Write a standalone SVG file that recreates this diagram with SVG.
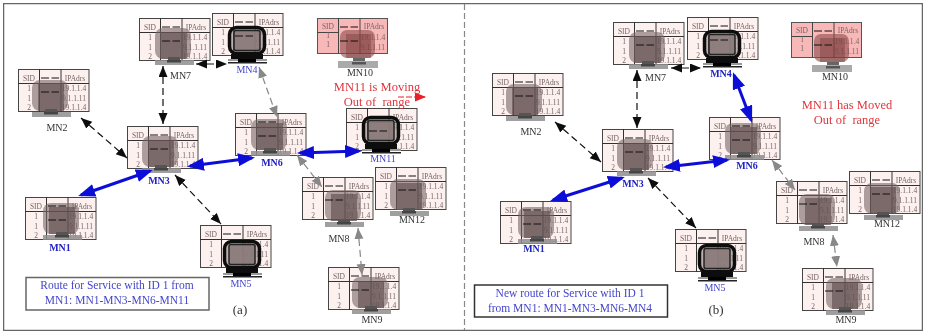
<svg xmlns="http://www.w3.org/2000/svg" width="925" height="332" viewBox="0 0 925 332">
<style>
text{font-family:"Liberation Serif","Times New Roman",serif}
.t{font-size:7.5px;fill:#756565;text-anchor:middle}
.l{font-size:10px;fill:#333;text-anchor:middle}
.ls{font-size:10px;fill:#333;text-anchor:start}
.b{font-size:10px;fill:#4444cc;text-anchor:middle}
.bb{font-size:10px;fill:#2222c0;font-weight:bold;text-anchor:middle}
.red{font-size:12.5px;fill:#e0353c;text-anchor:middle}
.rt{font-size:11.5px;fill:#4444cc;text-anchor:middle}
.cap{font-size:13px;fill:#333;text-anchor:middle}
.box{fill:#fff;stroke-width:1.5}
.k{stroke:#111;stroke-width:1.2;stroke-dasharray:7 4;fill:none;marker-start:url(#ak);marker-end:url(#ak)}
.g{stroke:#888;stroke-width:1.2;stroke-dasharray:7 4;fill:none;marker-start:url(#ag);marker-end:url(#ag)}
.u{stroke:#1010d8;stroke-width:3;fill:none;marker-start:url(#au);marker-end:url(#au)}
</style>
<defs>
<filter id="soft" x="0" y="0" width="100%" height="100%"><feGaussianBlur stdDeviation="0.35"/></filter>
<marker id="ak" markerUnits="userSpaceOnUse" markerWidth="12" markerHeight="10" refX="11" refY="4.500" orient="auto-start-reverse"><path d="M0,0L11,4.500L0,9z" fill="#111"/></marker>
<marker id="ag" markerUnits="userSpaceOnUse" markerWidth="12" markerHeight="10" refX="11" refY="4.500" orient="auto-start-reverse"><path d="M0,0L11,4.500L0,9z" fill="#888"/></marker>
<marker id="au" markerUnits="userSpaceOnUse" markerWidth="18" markerHeight="13" refX="14" refY="6.500" orient="auto-start-reverse"><path d="M0,0L17,6.500L0,13z" fill="#1010d8"/></marker>
<marker id="ar" markerUnits="userSpaceOnUse" markerWidth="12" markerHeight="10" refX="10" refY="4.500" orient="auto"><path d="M0,0L11,4.500L0,9z" fill="#e8202c"/></marker>
<g id="tb">
<rect x="0.500" y="0.500" width="70.500" height="42" fill="#fdf1f0" stroke="#444" stroke-width="1"/>
<path d="M0,14.500H71M21.500,0V43M43,0V43" stroke="#333" stroke-width="1" fill="none"/>
</g>
<g id="tbp">
<rect x="0.500" y="0.500" width="70" height="35" fill="#f9b8b8" stroke="#555" stroke-width="1"/>
<path d="M0,14.500H21M21.500,0V36M43,0V36" stroke="#444" stroke-width="1" fill="none"/>
</g>
<path id="ds" d="M23,9H41M23,23H41" stroke="#111" stroke-width="1" stroke-dasharray="8 2.500" fill="none"/>
<g id="pc">
<rect x="0" y="0" width="36" height="31" rx="8" fill="#7a6666" opacity=".6"/>
<rect x="6" y="4" width="26" height="27" fill="#5a4a4a" opacity=".6"/>
<rect x="13" y="29" width="12" height="3" fill="#555"/>
<rect x="0" y="32" width="39" height="5" fill="#8e8e8e" opacity=".85"/>
<rect x="12" y="32" width="14" height="2.500" fill="#444"/>
</g>
<g id="pd">
<rect x="1.500" y="1.500" width="35" height="26" rx="7" fill="#8a7a7a" fill-opacity=".55" stroke="#111" stroke-width="3.500"/>
<rect x="6" y="4.500" width="26" height="20" rx="2" fill="#8a7a7a" fill-opacity=".92" stroke="#222" stroke-width="1.500"/>
<rect x="3" y="28" width="32" height="5" fill="#111"/>
<rect x="0" y="33" width="39" height="2" fill="#999"/>
<rect x="10" y="33" width="18" height="3" fill="#000"/>
<rect x="0" y="36" width="39" height="1.500" fill="#222"/>
</g>
<g id="pp">
<rect x="0" y="0" width="35" height="28" rx="7" fill="#8c4a4a" opacity=".6"/>
<rect x="6" y="4" width="25" height="24" fill="#7a3c3c" opacity=".45"/>
<rect x="13" y="28" width="12" height="3" fill="#666"/>
<rect x="-2" y="31" width="40" height="7" fill="#aaa"/>
<rect x="12" y="32" width="14" height="2.500" fill="#555"/>
</g>
</defs>
<g filter="url(#soft)">
<rect id="frame" x="3.500" y="3.500" width="919" height="327" fill="#fff" stroke="#666" stroke-width="1.500"/>
<line id="divider" x1="464.500" y1="4" x2="464.500" y2="330" stroke="#888" stroke-width="1.200" stroke-dasharray="6 3"/>

<g id="a-MN7" transform="translate(139,18)"><use href="#tb"/><text class="t" x="11" y="12">SID</text><text class="t" x="57" y="12">IPAdrs</text><text class="t" x="11" y="22">1</text><text class="t" x="11" y="32">1</text><text class="t" x="11" y="41">2</text><text class="t" x="56" y="22">19.1.1.4</text><text class="t" x="56" y="32">9.1.1.11</text><text class="t" x="56" y="41">19.1.1.4</text><use href="#pc" x="16" y="10"/><use href="#ds"/><text class="ls" x="31" y="61">MN7</text></g>
<g id="a-MN4" transform="translate(212,13)"><use href="#tb"/><text class="t" x="11" y="12">SID</text><text class="t" x="57" y="12">IPAdrs</text><text class="t" x="11" y="22">1</text><text class="t" x="11" y="32">1</text><text class="t" x="11" y="41">2</text><text class="t" x="56" y="22">19.1.1.4</text><text class="t" x="56" y="32">9.1.1.11</text><text class="t" x="56" y="41">19.1.1.4</text><use href="#pd" x="16" y="13"/><use href="#ds"/><text class="b" x="35" y="60">MN4</text></g>
<g id="a-MN10" transform="translate(317,18)"><use href="#tbp"/><text class="t" x="11" y="11">SID</text><text class="t" x="57" y="11">IPAdrs</text><text class="t" x="11" y="20">1</text><text class="t" x="11" y="29">1</text><text class="t" x="56" y="22">19.1.1.4</text><text class="t" x="56" y="32">9.1.1.11</text><use href="#pp" x="23" y="12"/><use href="#ds"/><text class="l" x="43" y="58">MN10</text></g>
<g id="a-MN2" transform="translate(18,69)"><use href="#tb"/><text class="t" x="11" y="12">SID</text><text class="t" x="57" y="12">IPAdrs</text><text class="t" x="11" y="22">1</text><text class="t" x="11" y="32">1</text><text class="t" x="11" y="41">2</text><text class="t" x="56" y="22">19.1.1.4</text><text class="t" x="56" y="32">9.1.1.11</text><text class="t" x="56" y="41">19.1.1.4</text><use href="#pc" x="14" y="11"/><use href="#ds"/><text class="l" x="39" y="62">MN2</text></g>
<g id="a-MN3" transform="translate(127,126)"><use href="#tb"/><text class="t" x="11" y="12">SID</text><text class="t" x="57" y="12">IPAdrs</text><text class="t" x="11" y="22">1</text><text class="t" x="11" y="32">1</text><text class="t" x="11" y="41">2</text><text class="t" x="56" y="22">19.1.1.4</text><text class="t" x="56" y="32">9.1.1.11</text><text class="t" x="56" y="41">19.1.1.4</text><use href="#pc" x="15" y="10"/><use href="#ds"/><text class="bb" x="32" y="58">MN3</text></g>
<g id="a-MN6" transform="translate(235,113)"><use href="#tb"/><text class="t" x="11" y="12">SID</text><text class="t" x="57" y="12">IPAdrs</text><text class="t" x="11" y="22">1</text><text class="t" x="11" y="32">1</text><text class="t" x="11" y="41">2</text><text class="t" x="56" y="22">19.1.1.4</text><text class="t" x="56" y="32">9.1.1.11</text><text class="t" x="56" y="41">19.1.1.4</text><use href="#pc" x="16" y="6"/><use href="#ds"/><text class="bb" x="37" y="53">MN6</text></g>
<g id="a-MN11" transform="translate(346,108)"><use href="#tb"/><text class="t" x="11" y="12">SID</text><text class="t" x="57" y="12">IPAdrs</text><text class="t" x="11" y="22">1</text><text class="t" x="11" y="32">1</text><text class="t" x="11" y="41">2</text><text class="t" x="56" y="22">19.1.1.4</text><text class="t" x="56" y="32">9.1.1.11</text><text class="t" x="56" y="41">19.1.1.4</text><use href="#pd" x="16" y="8"/><use href="#ds"/><text class="b" x="37" y="54">MN11</text></g>
<g id="a-MN1" transform="translate(25,197)"><use href="#tb"/><text class="t" x="11" y="12">SID</text><text class="t" x="57" y="12">IPAdrs</text><text class="t" x="11" y="22">1</text><text class="t" x="11" y="32">1</text><text class="t" x="11" y="41">2</text><text class="t" x="56" y="22">19.1.1.4</text><text class="t" x="56" y="32">9.1.1.11</text><text class="t" x="56" y="41">19.1.1.4</text><use href="#pc" x="18" y="6"/><use href="#ds"/><text class="bb" x="35" y="54">MN1</text></g>
<g id="a-MN5" transform="translate(200,225)"><use href="#tb"/><text class="t" x="11" y="12">SID</text><text class="t" x="57" y="12">IPAdrs</text><text class="t" x="11" y="22">1</text><text class="t" x="11" y="32">1</text><text class="t" x="11" y="41">2</text><text class="t" x="56" y="22">19.1.1.4</text><text class="t" x="56" y="32">9.1.1.11</text><text class="t" x="56" y="41">19.1.1.4</text><use href="#pd" x="23" y="15"/><path d="M23,9H41" stroke="#111" stroke-dasharray="8 2.500"/><text class="b" x="41" y="62">MN5</text></g>
<g id="a-MN8" transform="translate(302,177)"><use href="#tb"/><text class="t" x="11" y="12">SID</text><text class="t" x="57" y="12">IPAdrs</text><text class="t" x="11" y="22">1</text><text class="t" x="11" y="32">1</text><text class="t" x="11" y="41">2</text><text class="t" x="56" y="22">19.1.1.4</text><text class="t" x="56" y="32">9.1.1.11</text><text class="t" x="56" y="41">19.1.1.4</text><use href="#pc" x="23" y="13"/><use href="#ds"/><text class="l" x="37" y="65">MN8</text></g>
<g id="a-MN12" transform="translate(375,167)"><use href="#tb"/><text class="t" x="11" y="12">SID</text><text class="t" x="57" y="12">IPAdrs</text><text class="t" x="11" y="22">1</text><text class="t" x="11" y="32">1</text><text class="t" x="11" y="41">2</text><text class="t" x="56" y="22">19.1.1.4</text><text class="t" x="56" y="32">9.1.1.11</text><text class="t" x="56" y="41">19.1.1.4</text><use href="#pc" x="15" y="12"/><use href="#ds"/><text class="l" x="37" y="56">MN12</text></g>
<g id="a-MN9" transform="translate(328,267)"><use href="#tb"/><text class="t" x="11" y="12">SID</text><text class="t" x="57" y="12">IPAdrs</text><text class="t" x="11" y="22">1</text><text class="t" x="11" y="32">1</text><text class="t" x="11" y="41">2</text><text class="t" x="56" y="22">19.1.1.4</text><text class="t" x="56" y="32">9.1.1.11</text><text class="t" x="56" y="41">19.1.1.4</text><use href="#pc" x="24" y="10"/><use href="#ds"/><text class="l" x="44" y="56">MN9</text></g>

<g id="b-MN7" transform="translate(613,22)"><use href="#tb"/><text class="t" x="11" y="12">SID</text><text class="t" x="57" y="12">IPAdrs</text><text class="t" x="11" y="22">1</text><text class="t" x="11" y="32">1</text><text class="t" x="11" y="41">2</text><text class="t" x="56" y="22">19.1.1.4</text><text class="t" x="56" y="32">9.1.1.11</text><text class="t" x="56" y="41">19.1.1.4</text><use href="#pc" x="16" y="10"/><use href="#ds"/><text class="ls" x="32" y="59">MN7</text></g>
<g id="b-MN4" transform="translate(687,17)"><use href="#tb"/><text class="t" x="11" y="12">SID</text><text class="t" x="57" y="12">IPAdrs</text><text class="t" x="11" y="22">1</text><text class="t" x="11" y="32">1</text><text class="t" x="11" y="41">2</text><text class="t" x="56" y="22">19.1.1.4</text><text class="t" x="56" y="32">9.1.1.11</text><text class="t" x="56" y="41">19.1.1.4</text><use href="#pd" x="16" y="13"/><use href="#ds"/><text class="bb" x="34" y="60">MN4</text></g>
<g id="b-MN10" transform="translate(791,22)"><use href="#tbp"/><text class="t" x="11" y="11">SID</text><text class="t" x="57" y="11">IPAdrs</text><text class="t" x="11" y="20">1</text><text class="t" x="11" y="29">1</text><text class="t" x="56" y="22">19.1.1.4</text><text class="t" x="56" y="32">9.1.1.11</text><use href="#pp" x="23" y="12"/><use href="#ds"/><text class="l" x="44" y="58">MN10</text></g>
<g id="b-MN2" transform="translate(492,73)"><use href="#tb"/><text class="t" x="11" y="12">SID</text><text class="t" x="57" y="12">IPAdrs</text><text class="t" x="11" y="22">1</text><text class="t" x="11" y="32">1</text><text class="t" x="11" y="41">2</text><text class="t" x="56" y="22">19.1.1.4</text><text class="t" x="56" y="32">9.1.1.11</text><text class="t" x="56" y="41">19.1.1.4</text><use href="#pc" x="14" y="11"/><use href="#ds"/><text class="l" x="39" y="62">MN2</text></g>
<g id="b-MN3" transform="translate(602,129)"><use href="#tb"/><text class="t" x="11" y="12">SID</text><text class="t" x="57" y="12">IPAdrs</text><text class="t" x="11" y="22">1</text><text class="t" x="11" y="32">1</text><text class="t" x="11" y="41">2</text><text class="t" x="56" y="22">19.1.1.4</text><text class="t" x="56" y="32">9.1.1.11</text><text class="t" x="56" y="41">19.1.1.4</text><use href="#pc" x="15" y="10"/><use href="#ds"/><text class="bb" x="31" y="58">MN3</text></g>
<g id="b-MN6" transform="translate(709,117)"><use href="#tb"/><text class="t" x="11" y="12">SID</text><text class="t" x="57" y="12">IPAdrs</text><text class="t" x="11" y="22">1</text><text class="t" x="11" y="32">1</text><text class="t" x="11" y="41">2</text><text class="t" x="56" y="22">19.1.1.4</text><text class="t" x="56" y="32">9.1.1.11</text><text class="t" x="56" y="41">19.1.1.4</text><use href="#pc" x="16" y="6"/><use href="#ds"/><text class="bb" x="38" y="52">MN6</text></g>
<g id="b-MN1" transform="translate(500,201)"><use href="#tb"/><text class="t" x="11" y="12">SID</text><text class="t" x="57" y="12">IPAdrs</text><text class="t" x="11" y="22">1</text><text class="t" x="11" y="32">1</text><text class="t" x="11" y="41">2</text><text class="t" x="56" y="22">19.1.1.4</text><text class="t" x="56" y="32">9.1.1.11</text><text class="t" x="56" y="41">19.1.1.4</text><use href="#pc" x="18" y="6"/><use href="#ds"/><text class="bb" x="34" y="51">MN1</text></g>
<g id="b-MN5" transform="translate(675,229)"><use href="#tb"/><text class="t" x="11" y="12">SID</text><text class="t" x="57" y="12">IPAdrs</text><text class="t" x="11" y="22">1</text><text class="t" x="11" y="32">1</text><text class="t" x="11" y="41">2</text><text class="t" x="56" y="22">19.1.1.4</text><text class="t" x="56" y="32">9.1.1.11</text><text class="t" x="56" y="41">19.1.1.4</text><use href="#pd" x="23" y="15"/><path d="M23,9H41" stroke="#111" stroke-dasharray="8 2.500"/><text class="b" x="40" y="62">MN5</text></g>
<g id="b-MN8" transform="translate(776,181)"><use href="#tb"/><text class="t" x="11" y="12">SID</text><text class="t" x="57" y="12">IPAdrs</text><text class="t" x="11" y="22">1</text><text class="t" x="11" y="32">1</text><text class="t" x="11" y="41">2</text><text class="t" x="56" y="22">19.1.1.4</text><text class="t" x="56" y="32">9.1.1.11</text><text class="t" x="56" y="41">19.1.1.4</text><use href="#pc" x="23" y="13"/><use href="#ds"/><text class="l" x="38" y="64">MN8</text></g>
<g id="b-MN12" transform="translate(849,171)"><use href="#tb"/><text class="t" x="11" y="12">SID</text><text class="t" x="57" y="12">IPAdrs</text><text class="t" x="11" y="22">1</text><text class="t" x="11" y="32">1</text><text class="t" x="11" y="41">2</text><text class="t" x="56" y="22">19.1.1.4</text><text class="t" x="56" y="32">9.1.1.11</text><text class="t" x="56" y="41">19.1.1.4</text><use href="#pc" x="15" y="12"/><use href="#ds"/><text class="l" x="38" y="56">MN12</text></g>
<g id="b-MN9" transform="translate(802,268)"><use href="#tb"/><text class="t" x="11" y="12">SID</text><text class="t" x="57" y="12">IPAdrs</text><text class="t" x="11" y="22">1</text><text class="t" x="11" y="32">1</text><text class="t" x="11" y="41">2</text><text class="t" x="56" y="22">19.1.1.4</text><text class="t" x="56" y="32">9.1.1.11</text><text class="t" x="56" y="41">19.1.1.4</text><use href="#pc" x="24" y="10"/><use href="#ds"/><text class="l" x="44" y="55">MN9</text></g>

<g id="connectors">
<line class="k" x1="81" y1="118" x2="127" y2="158"/>
<line class="k" x1="163" y1="66" x2="163" y2="124"/>
<line class="k" x1="196" y1="64" x2="227" y2="64"/>
<line class="k" x1="175" y1="175" x2="221" y2="224"/>
<line class="g" x1="259" y1="67" x2="277" y2="117"/>
<line class="g" x1="297" y1="155" x2="322" y2="187"/>
<line class="g" x1="358" y1="228" x2="362" y2="275"/>
<line class="u" x1="81" y1="195" x2="150" y2="171"/>
<line class="u" x1="190" y1="166" x2="252" y2="158"/>
<line class="u" x1="300" y1="153" x2="359" y2="151"/>
<line x1="398" y1="97" x2="425" y2="97" stroke="#e8202c" stroke-width="1.200" stroke-dasharray="6 2" marker-end="url(#ar)"/>
<line class="k" x1="555" y1="122" x2="601" y2="162"/>
<line class="k" x1="637" y1="70" x2="637" y2="128"/>
<line class="k" x1="671" y1="68" x2="701" y2="68"/>
<line class="k" x1="648" y1="178" x2="696" y2="228"/>
<line class="g" x1="772" y1="160" x2="795" y2="190"/>
<line class="g" x1="833" y1="235" x2="837" y2="267"/>
<line class="u" x1="553" y1="200" x2="622" y2="178"/>
<line class="u" x1="666" y1="167" x2="727" y2="160"/>
<line class="u" x1="734" y1="75" x2="751" y2="120"/>
</g>

<g id="notes">
<text class="red" x="377" y="91">MN11 is Moving</text>
<text class="red" x="377" y="106" xml:space="preserve">Out of  range</text>
<text class="red" x="847" y="109">MN11 has Moved</text>
<text class="red" x="847" y="124" xml:space="preserve">Out of  range</text>
<rect class="box" x="26" y="277.500" width="183" height="32.500" stroke="#666"/>
<text class="rt" x="117" y="289">Route for Service with ID 1 from</text>
<text class="rt" x="117" y="304">MN1: MN1-MN3-MN6-MN11</text>
<text class="cap" x="240" y="314">(a)</text>
<rect class="box" x="474.500" y="285" width="193" height="32" stroke="#333"/>
<text class="rt" x="570" y="297">New route for Service with ID 1</text>
<text class="rt" x="570" y="312">from MN1: MN1-MN3-MN6-MN4</text>
<text class="cap" x="716" y="314">(b)</text>
</g>
</g>
</svg>
